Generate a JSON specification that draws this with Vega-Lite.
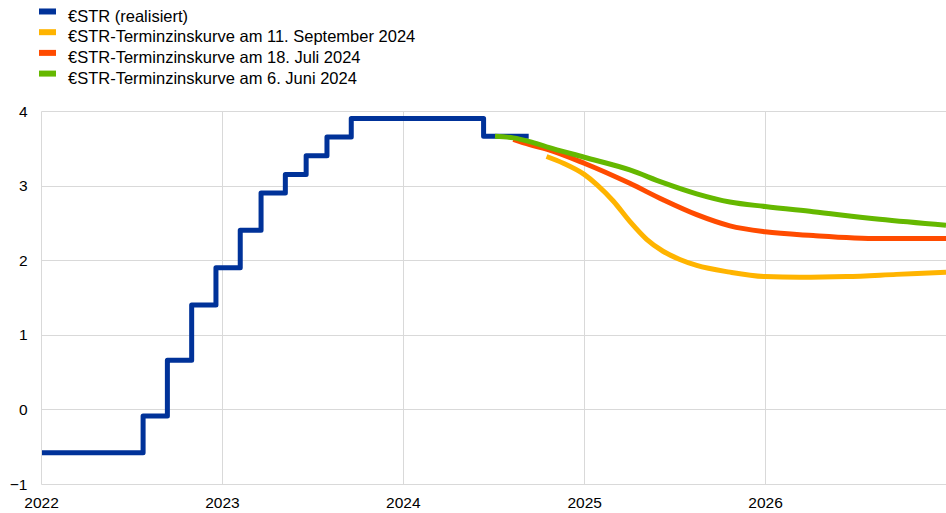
{
  "$schema": "https://vega.github.io/schema/vega-lite/v6.json",
  "autosize": {"type": "none"},
  "width": 905,
  "height": 373,
  "padding": {"left": 41, "top": 111, "right": 0, "bottom": 29},
  "background": "white",
  "config": {
    "font": "Liberation Sans",
    "view": {"stroke": null},
    "axis": {"labelFont": "Liberation Sans", "labelFontSize": 15.5, "labelColor": "#000000", "gridColor": "#d9d9d9", "gridWidth": 1, "domain": false, "ticks": false, "tickSize": 0, "title": null},
    "legend": {"labelFont": "Liberation Sans", "labelFontSize": 16.5, "labelColor": "#000000"}
  },
  "datasets": {
    "estr": [
      {"date": "2022-01-03", "value": -0.58, "series": "€STR (realisiert)"},
      {"date": "2022-07-26", "value": -0.09, "series": "€STR (realisiert)"},
      {"date": "2022-09-13", "value": 0.66, "series": "€STR (realisiert)"},
      {"date": "2022-11-01", "value": 1.40, "series": "€STR (realisiert)"},
      {"date": "2022-12-20", "value": 1.90, "series": "€STR (realisiert)"},
      {"date": "2023-02-07", "value": 2.40, "series": "€STR (realisiert)"},
      {"date": "2023-03-21", "value": 2.90, "series": "€STR (realisiert)"},
      {"date": "2023-05-09", "value": 3.15, "series": "€STR (realisiert)"},
      {"date": "2023-06-20", "value": 3.40, "series": "€STR (realisiert)"},
      {"date": "2023-08-01", "value": 3.65, "series": "€STR (realisiert)"},
      {"date": "2023-09-19", "value": 3.90, "series": "€STR (realisiert)"},
      {"date": "2024-06-12", "value": 3.66, "series": "€STR (realisiert)"},
      {"date": "2024-09-11", "value": 3.66, "series": "€STR (realisiert)"}
    ],
    "fwd": [
      {"date": "2024-10-17", "value": 3.39, "series": "€STR-Terminzinskurve am 11. September 2024"},
      {"date": "2024-11-20", "value": 3.30, "series": "€STR-Terminzinskurve am 11. September 2024"},
      {"date": "2025-01-01", "value": 3.15, "series": "€STR-Terminzinskurve am 11. September 2024"},
      {"date": "2025-01-27", "value": 3.01, "series": "€STR-Terminzinskurve am 11. September 2024"},
      {"date": "2025-03-01", "value": 2.79, "series": "€STR-Terminzinskurve am 11. September 2024"},
      {"date": "2025-04-03", "value": 2.52, "series": "€STR-Terminzinskurve am 11. September 2024"},
      {"date": "2025-05-07", "value": 2.28, "series": "€STR-Terminzinskurve am 11. September 2024"},
      {"date": "2025-06-09", "value": 2.12, "series": "€STR-Terminzinskurve am 11. September 2024"},
      {"date": "2025-07-13", "value": 2.01, "series": "€STR-Terminzinskurve am 11. September 2024"},
      {"date": "2025-08-16", "value": 1.93, "series": "€STR-Terminzinskurve am 11. September 2024"},
      {"date": "2025-10-22", "value": 1.84, "series": "€STR-Terminzinskurve am 11. September 2024"},
      {"date": "2026-01-01", "value": 1.78, "series": "€STR-Terminzinskurve am 11. September 2024"},
      {"date": "2026-03-12", "value": 1.77, "series": "€STR-Terminzinskurve am 11. September 2024"},
      {"date": "2026-06-14", "value": 1.78, "series": "€STR-Terminzinskurve am 11. September 2024"},
      {"date": "2026-09-23", "value": 1.81, "series": "€STR-Terminzinskurve am 11. September 2024"},
      {"date": "2027-01-01", "value": 1.84, "series": "€STR-Terminzinskurve am 11. September 2024"},
      {"date": "2024-08-11", "value": 3.62, "series": "€STR-Terminzinskurve am 18. Juli 2024"},
      {"date": "2024-09-13", "value": 3.55, "series": "€STR-Terminzinskurve am 18. Juli 2024"},
      {"date": "2024-10-17", "value": 3.49, "series": "€STR-Terminzinskurve am 18. Juli 2024"},
      {"date": "2025-01-01", "value": 3.30, "series": "€STR-Terminzinskurve am 18. Juli 2024"},
      {"date": "2025-04-03", "value": 3.03, "series": "€STR-Terminzinskurve am 18. Juli 2024"},
      {"date": "2025-06-09", "value": 2.81, "series": "€STR-Terminzinskurve am 18. Juli 2024"},
      {"date": "2025-08-16", "value": 2.61, "series": "€STR-Terminzinskurve am 18. Juli 2024"},
      {"date": "2025-10-22", "value": 2.46, "series": "€STR-Terminzinskurve am 18. Juli 2024"},
      {"date": "2026-01-01", "value": 2.38, "series": "€STR-Terminzinskurve am 18. Juli 2024"},
      {"date": "2026-04-08", "value": 2.33, "series": "€STR-Terminzinskurve am 18. Juli 2024"},
      {"date": "2026-08-20", "value": 2.29, "series": "€STR-Terminzinskurve am 18. Juli 2024"},
      {"date": "2027-01-01", "value": 2.29, "series": "€STR-Terminzinskurve am 18. Juli 2024"},
      {"date": "2024-07-05", "value": 3.66, "series": "€STR-Terminzinskurve am 6. Juni 2024"},
      {"date": "2024-08-11", "value": 3.64, "series": "€STR-Terminzinskurve am 6. Juni 2024"},
      {"date": "2024-09-13", "value": 3.59, "series": "€STR-Terminzinskurve am 6. Juni 2024"},
      {"date": "2024-10-17", "value": 3.52, "series": "€STR-Terminzinskurve am 6. Juni 2024"},
      {"date": "2025-01-01", "value": 3.38, "series": "€STR-Terminzinskurve am 6. Juni 2024"},
      {"date": "2025-04-03", "value": 3.21, "series": "€STR-Terminzinskurve am 6. Juni 2024"},
      {"date": "2025-06-09", "value": 3.04, "series": "€STR-Terminzinskurve am 6. Juni 2024"},
      {"date": "2025-08-16", "value": 2.89, "series": "€STR-Terminzinskurve am 6. Juni 2024"},
      {"date": "2025-10-22", "value": 2.78, "series": "€STR-Terminzinskurve am 6. Juni 2024"},
      {"date": "2026-01-01", "value": 2.72, "series": "€STR-Terminzinskurve am 6. Juni 2024"},
      {"date": "2026-04-08", "value": 2.65, "series": "€STR-Terminzinskurve am 6. Juni 2024"},
      {"date": "2026-08-20", "value": 2.55, "series": "€STR-Terminzinskurve am 6. Juni 2024"},
      {"date": "2027-01-01", "value": 2.47, "series": "€STR-Terminzinskurve am 6. Juni 2024"}
    ]
  },
  "encoding": {
    "x": {
      "field": "date", "type": "temporal",
      "scale": {"type": "utc", "domain": [{"year": 2022, "month": 1, "date": 1, "utc": true}, {"year": 2027, "month": 1, "date": 1, "utc": true}], "nice": false},
      "axis": {
        "values": [
          {"year": 2022, "month": 1, "date": 1, "utc": true},
          {"year": 2023, "month": 1, "date": 1, "utc": true},
          {"year": 2024, "month": 1, "date": 1, "utc": true},
          {"year": 2025, "month": 1, "date": 1, "utc": true},
          {"year": 2026, "month": 1, "date": 1, "utc": true}
        ],
        "labelExpr": "utcFormat(datum.value, '%Y')",
        "labelPadding": 11,
        "labelFlush": false,
        "labelOverlap": false
      }
    },
    "y": {
      "field": "value", "type": "quantitative",
      "scale": {"domain": [-1, 4], "nice": false, "zero": false},
      "axis": {"values": [-1, 0, 1, 2, 3, 4], "labelPadding": 14, "format": "d"}
    },
    "color": {
      "field": "series", "type": "nominal",
      "scale": {
        "domain": ["€STR (realisiert)", "€STR-Terminzinskurve am 11. September 2024", "€STR-Terminzinskurve am 18. Juli 2024", "€STR-Terminzinskurve am 6. Juni 2024"],
        "range": ["#003299", "#FFB400", "#FF4B00", "#65B800"]
      },
      "legend": {
        "title": null,
        "orient": "none",
        "legendX": -5,
        "legendY": -106,
        "direction": "vertical",
        "symbolType": "M-1,-0.59L1,-0.59",
        "symbolSize": 289,
        "symbolStrokeWidth": 6,
        "labelOffset": 9,
        "rowPadding": -5.3,
        "labelLimit": 500
      }
    }
  },
  "layer": [
    {
      "data": {"values": [{"z": 0}]},
      "mark": {"type": "rule", "color": "#6e6e6e", "strokeWidth": 1},
      "encoding": {"y": {"datum": 0}, "x": null, "color": null}
    },
    {
      "data": {"name": "estr"},
      "mark": {"type": "line", "interpolate": "step-after", "strokeWidth": 5, "strokeJoin": "round"}
    },
    {
      "data": {"name": "fwd"},
      "mark": {"type": "line", "interpolate": "monotone", "strokeWidth": 5}
    }
  ]
}
